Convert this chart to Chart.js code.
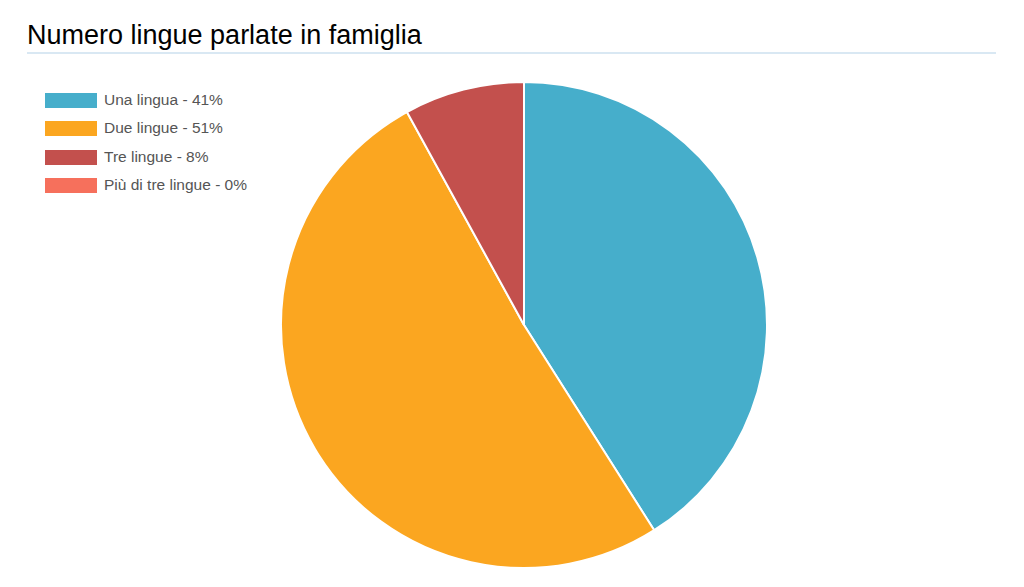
<!DOCTYPE html>
<html>
<head>
<meta charset="utf-8">
<script src="https://cdn.jsdelivr.net/npm/chart.js@4"></script>
<style>
  body { margin: 0; background: #fff; font-family: "Liberation Sans", Arial, sans-serif; }
  #title { position: absolute; left: 27px; top: 20px; font-size: 27px; color: #000; }
  #rule { position: absolute; left: 27px; top: 52px; width: 969px; height: 2px; background: #d9e8f3; }
  #legend { position: absolute; left: 45px; top: 91px; margin: 0; padding: 0; list-style: none; }
  #legend li { height: 28.3px; display: flex; align-items: flex-start; font-size: 15.5px; color: #555; }
  #legend span.box { width: 52px; height: 15px; margin-right: 7px; margin-top: 2px; }
  #wrap { position: absolute; left: 280px; top: 81px; width: 488px; height: 488px; }
</style>
</head>
<body>
<div id="title">Numero lingue parlate in famiglia</div>
<div id="rule"></div>
<ul id="legend"></ul>
<div id="wrap"><canvas id="pieChart"></canvas></div>
<script>
const categories = ['Una lingua', 'Due lingue', 'Tre lingue', 'Più di tre lingue'];
const percentages = [41, 51, 8, 0];
const colors = ['#46aecb', '#fba620', '#c3504d', '#f6705c'];

// legenda costruita dai dati
const ul = document.getElementById('legend');
categories.forEach((name, i) => {
    const li = document.createElement('li');
    li.innerHTML = `<span class="box" style="background:${colors[i]}"></span>${name} - ${percentages[i]}%`;
    ul.appendChild(li);
});

const ctx = document.getElementById('pieChart').getContext('2d');
new Chart(ctx, {
    type: 'pie',
    data: {
        labels: categories,
        datasets: [{
            data: percentages,
            backgroundColor: colors,
            borderColor: '#ffffff',
            borderWidth: 2
        }]
    },
    options: {
        responsive: true,
        maintainAspectRatio: false,
        animation: false,
        layout: { padding: 0 },
        plugins: {
            legend: { display: false },
            tooltip: { enabled: false }
        }
    }
});
</script>
</body>
</html>
